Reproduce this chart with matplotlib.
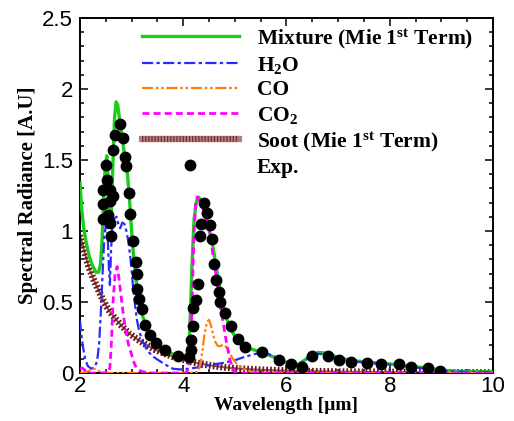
import matplotlib
matplotlib.use("Agg")
import matplotlib.pyplot as plt
from matplotlib.lines import Line2D
from matplotlib.legend_handler import HandlerTuple
from matplotlib.ticker import MultipleLocator, FuncFormatter

plt.rcParams["mathtext.fontset"] = "custom"
plt.rcParams["mathtext.rm"] = "Liberation Serif:bold"
plt.rcParams["mathtext.bf"] = "Liberation Serif:bold"
plt.rcParams["mathtext.it"] = "Liberation Serif:bold"

# Mistura (Mie 1o termo)
mix_x = [2.00, 2.03, 2.07, 2.12, 2.18, 2.25, 2.31, 2.36, 2.40, 2.43, 2.46, 2.49,
         2.52, 2.55, 2.58, 2.61, 2.64, 2.67, 2.70, 2.73, 2.77, 2.82, 2.87, 2.92,
         2.96, 3.00, 3.04, 3.08, 3.13, 3.18, 3.24, 3.30, 3.38, 3.48, 3.60, 3.75,
         3.90, 4.02, 4.08, 4.12, 4.15, 4.18, 4.21, 4.25, 4.29, 4.34, 4.40, 4.46,
         4.52, 4.58, 4.64, 4.70, 4.76, 4.82, 4.90, 5.00, 5.13, 5.30, 5.50, 5.70,
         5.90, 6.10, 6.22, 6.35, 6.48, 6.62, 6.76, 6.92, 7.10, 7.35, 7.60, 7.85,
         8.10, 8.35, 8.60, 8.85, 9.05, 9.30, 9.60, 10.0]
mix_y = [1.34, 1.17, 1.03, 0.92, 0.82, 0.75, 0.71, 0.71, 0.77, 0.95, 1.25, 1.46,
         1.53, 1.35, 1.08, 1.15, 1.50, 1.80, 1.91, 1.89, 1.78, 1.65, 1.52, 1.40,
         1.22, 1.00, 0.82, 0.67, 0.53, 0.44, 0.37, 0.31, 0.26, 0.21, 0.17, 0.14,
         0.12, 0.11, 0.12, 0.25, 0.55, 0.85, 1.08, 1.20, 1.24, 1.22, 1.15, 1.07,
         0.98, 0.88, 0.74, 0.62, 0.51, 0.41, 0.32, 0.26, 0.21, 0.17, 0.15, 0.12,
         0.09, 0.06, 0.06, 0.09, 0.13, 0.145, 0.14, 0.12, 0.10, 0.085, 0.075, 0.07,
         0.06, 0.05, 0.04, 0.028, 0.018, 0.012, 0.010, 0.008]

# H2O
h2o_x = [2.00, 2.03, 2.06, 2.10, 2.15, 2.22, 2.28, 2.33, 2.37, 2.41, 2.44, 2.47,
         2.50, 2.53, 2.56, 2.58, 2.60, 2.63, 2.67, 2.71, 2.75, 2.78, 2.82, 2.86,
         2.90, 2.94, 2.98, 3.02, 3.06, 3.10, 3.15, 3.22, 3.30, 3.40, 3.52, 3.65,
         3.80, 3.95, 4.10, 4.30, 4.50, 4.75, 5.00, 5.20, 5.40, 5.60, 5.75, 5.90,
         6.10, 6.22, 6.35, 6.48, 6.62, 6.76, 6.92, 7.10, 7.35, 7.60, 7.85, 8.10,
         8.35, 8.60, 8.85, 9.05, 9.30, 9.60, 10.0]
h2o_y = [0.37, 0.26, 0.18, 0.10, 0.05, 0.03, 0.04, 0.08, 0.20, 0.47, 0.72, 0.95,
         1.04, 1.02, 0.75, 0.62, 0.85, 1.05, 1.09, 1.10, 1.04, 1.02, 1.06, 1.05,
         1.00, 0.92, 0.80, 0.64, 0.50, 0.38, 0.29, 0.22, 0.16, 0.12, 0.09, 0.06,
         0.03, 0.025, 0.03, 0.04, 0.055, 0.07, 0.09, 0.115, 0.135, 0.14, 0.12, 0.09,
         0.06, 0.055, 0.085, 0.12, 0.135, 0.13, 0.11, 0.095, 0.08, 0.07, 0.065, 0.055,
         0.045, 0.035, 0.025, 0.015, 0.01, 0.008, 0.006]

# CO
co_x = [2.00, 2.15, 2.22, 2.28, 2.34, 2.42, 2.60, 4.20, 4.29, 4.33, 4.37, 4.41,
        4.46, 4.50, 4.54, 4.58, 4.62, 4.67, 4.72, 4.78, 4.84, 4.90, 4.96, 5.03,
        5.12, 5.22, 5.35, 5.50, 10.0]
co_y = [0.0, 0.01, 0.025, 0.03, 0.02, 0.005, 0.0, 0.0, 0.01, 0.06, 0.15, 0.27,
        0.36, 0.375, 0.33, 0.27, 0.22, 0.19, 0.19, 0.20, 0.18, 0.14, 0.10, 0.07,
        0.04, 0.02, 0.005, 0.0, 0.0]

# CO2
co2_x = [2.00, 2.04, 2.08, 2.12, 2.20, 2.55, 2.58, 2.61, 2.64, 2.68, 2.72, 2.75,
         2.79, 2.83, 2.88, 2.94, 3.00, 3.05, 3.10, 3.20, 3.40, 4.05, 4.10, 4.14,
         4.17, 4.19, 4.21, 4.24, 4.27, 4.32, 4.39, 4.46, 4.52, 4.58, 4.65, 4.71,
         4.77, 4.84, 4.90, 4.96, 5.02, 10.0]
co2_y = [0.03, 0.035, 0.025, 0.01, 0.0, 0.0, 0.04, 0.22, 0.50, 0.70, 0.75, 0.68,
         0.56, 0.44, 0.31, 0.20, 0.13, 0.07, 0.03, 0.01, 0.0, 0.0, 0.03, 0.20,
         0.45, 0.75, 1.00, 1.18, 1.24, 1.21, 1.15, 1.06, 0.98, 0.82, 0.66, 0.49,
         0.36, 0.21, 0.10, 0.03, 0.0, 0.0]

# Fuligem (Mie 1o termo)
soot_x = [2.0, 2.08, 2.16, 2.25, 2.35, 2.45, 2.55, 2.68, 2.80, 2.95, 3.12, 3.30,
          3.45, 3.62, 3.80, 4.0, 4.2, 4.5, 4.8, 5.1, 5.5, 6.0, 6.5, 7.0, 8.0,
          9.0, 10.0]
soot_y = [0.97, 0.86, 0.76, 0.67, 0.59, 0.51, 0.445, 0.385, 0.335, 0.28, 0.235,
          0.195, 0.165, 0.14, 0.115, 0.095, 0.075, 0.055, 0.04, 0.03, 0.022,
          0.016, 0.012, 0.009, 0.006, 0.004, 0.003]

# Experimental
exp_x = [2.45, 2.45, 2.45, 2.51, 2.53, 2.55, 2.58, 2.58, 2.58, 2.61, 2.64, 2.644,
         2.677, 2.775, 2.84, 2.87, 2.90, 2.94, 2.97, 3.03, 3.08, 3.10, 3.11, 3.15,
         3.20, 3.26, 3.36, 3.47, 3.65, 3.89, 4.11, 4.15, 4.15, 4.18, 4.18, 4.24,
         4.29, 4.33, 4.34, 4.41, 4.47, 4.52, 4.55, 4.60, 4.63, 4.70, 4.72, 4.80,
         4.93, 5.07, 5.19, 5.53, 5.86, 6.08, 6.31, 6.49, 6.80, 7.01, 7.25, 7.56,
         7.84, 8.17, 8.42, 8.75, 8.97]
exp_y = [1.085, 1.19, 1.29, 1.465, 1.358, 1.11, 1.057, 1.21, 1.29, 0.967, 1.25, 1.57,
         1.674, 1.756, 1.655, 1.52, 1.457, 1.27, 1.12, 0.93, 0.78, 0.70, 0.59, 0.52,
         0.45, 0.34, 0.27, 0.21, 0.16, 0.12, 0.115, 0.16, 0.233, 0.33, 0.457, 0.516,
         0.63, 0.963, 1.05, 1.20, 1.128, 1.04, 0.946, 0.77, 0.657, 0.57, 0.50, 0.42,
         0.33, 0.24, 0.18, 0.15, 0.09, 0.06, 0.04, 0.12, 0.12, 0.09, 0.075, 0.073,
         0.064, 0.064, 0.045, 0.033, 0.016]

fig = plt.figure(figsize=(5.14, 4.21), dpi=100)
ax = fig.add_axes([0.1556, 0.114, 0.8035, 0.843])

# linhas
ax.plot(mix_x, mix_y, color="#1ccc1c", lw=2.4, zorder=3)
ax.plot(h2o_x, h2o_y, color="#2a2aff", lw=1.6, dashes=(5, 1.5, 1.5, 1.5), zorder=4)
ax.plot(co_x, co_y, color="#ff7f0e", lw=1.6, dashes=(5, 1.2, 1.2, 1.2, 1.2, 1.2), zorder=4)
ax.plot(co2_x, co2_y, color="#ff00ff", lw=2.0, dashes=(2.5, 1.5), zorder=5)
ax.plot(soot_x, soot_y, color="#9a5a5a", lw=1.5, zorder=2)
ax.plot(soot_x, soot_y, color="#6a1515", lw=5, dashes=(0.25, 0.3), zorder=2)
ax.plot(exp_x, exp_y, "o", color="black", ms=7.5, zorder=6)

ax.set_xlim(2, 10)
ax.set_ylim(0, 2.5)
ax.xaxis.set_major_locator(MultipleLocator(2))
ax.xaxis.set_minor_locator(MultipleLocator(0.5))
ax.yaxis.set_major_locator(MultipleLocator(0.5))
ax.yaxis.set_minor_locator(MultipleLocator(0.1))
fmt = FuncFormatter(lambda v, p: "%g" % v)
ax.xaxis.set_major_formatter(fmt)
ax.yaxis.set_major_formatter(fmt)
ax.tick_params(which="both", direction="in", top=True, right=True, width=1.1)
ax.tick_params(which="major", length=6, labelsize=16)
ax.tick_params(axis="x", which="major", pad=2)
ax.tick_params(axis="y", which="major", pad=5)
ax.tick_params(which="minor", length=3)
for lab in ax.get_xticklabels() + ax.get_yticklabels():
    lab.set_family("Liberation Sans")
for s in ax.spines.values():
    s.set_linewidth(1.4)

ax.set_xlabel("Wavelength [\u00b5m]", family="Liberation Serif", weight="bold",
              fontsize=14, labelpad=0)
ax.set_ylabel("Spectral Radiance [A.U]", family="Liberation Serif", weight="bold",
              fontsize=15, labelpad=3)

# legenda
h_mix = Line2D([], [], color="#1ccc1c", lw=2.4)
h_h2o = Line2D([], [], color="#2a2aff", lw=1.6, dashes=(5, 1.5, 1.5, 1.5))
h_co = Line2D([], [], color="#ff7f0e", lw=1.6, dashes=(5, 1.2, 1.2, 1.2, 1.2, 1.2))
h_co2 = Line2D([], [], color="#ff00ff", lw=2.0, dashes=(2.5, 1.5))
h_soot = (Line2D([], [], color="#b08080", lw=4.5),
          Line2D([], [], color="#7a3030", lw=4.5, dashes=(0.2, 0.3)))
h_exp = Line2D([], [], color="black", marker="o", ls="none", ms=7.5)
labels = ["Mixture (Mie 1$^{\\mathrm{st}}$ Term)", "H$_{\\mathrm{2}}$O", "CO",
          "CO$_{\\mathrm{2}}$", "Soot (Mie 1$^{\\mathrm{st}}$ Term)", "Exp."]
ax.legend([h_mix, h_h2o, h_co, h_co2, h_soot, h_exp], labels,
          handler_map={tuple: HandlerTuple(ndivide=1, pad=0)},
          loc="upper left", bbox_to_anchor=(0.15, 0.975), frameon=False,
          borderpad=0, borderaxespad=0, handlelength=4.5, handletextpad=0.85,
          labelspacing=0.2,
          prop={"family": "Liberation Serif", "weight": "bold", "size": 15.5})

fig.savefig("out.png", dpi=100)
